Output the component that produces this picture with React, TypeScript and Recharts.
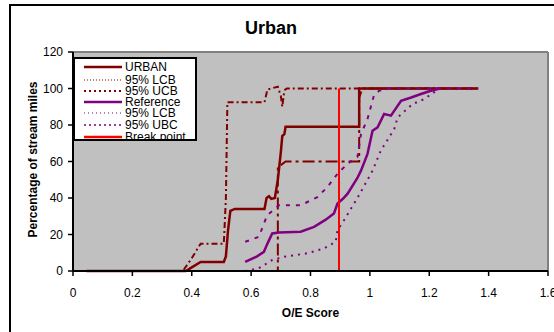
import React from 'react';
import { LineChart, Line, XAxis, YAxis, CartesianGrid, ReferenceLine, Legend } from 'recharts';

// ---- data ----
const xTicks = [0, 0.2, 0.4, 0.6, 0.8, 1, 1.2, 1.4, 1.6];
const yTicks = [0, 20, 40, 60, 80, 100, 120];

const urbanX = [0.045, 0.38, 0.40, 0.43, 0.508, 0.515, 0.522, 0.53, 0.545, 0.645, 0.652, 0.66, 0.668, 0.68, 0.69, 0.70, 0.705, 0.712, 0.716, 0.964, 0.964, 1.365];
const urbanY = [0, 0, 2, 5, 5, 8, 22, 33, 34, 34, 40, 41, 39.5, 40, 50, 65, 74, 75, 79, 79, 100, 100];

const urbanLcbX = [0.045, 0.69, 0.69, 0.70, 0.716, 0.964, 0.964, 0.975, 1.365];
const urbanLcbY = [0, 0, 57, 58, 60, 60, 95, 100, 100];

const urbanUcbX = [0.045, 0.37, 0.40, 0.43, 0.508, 0.515, 0.52, 0.645, 0.655, 0.69, 0.70, 0.705, 0.712, 0.72, 1.365];
const urbanUcbY = [0, 0, 7, 15, 15, 40, 92.5, 92.5, 99.5, 101, 96, 90, 99, 100, 100];

const refX = [0.58, 0.62, 0.643, 0.655, 0.671, 0.694, 0.767, 0.812, 0.85, 0.879, 0.891, 0.91, 0.925, 0.958, 0.97, 0.992, 1.009, 1.026, 1.048, 1.071, 1.105, 1.139, 1.172, 1.2, 1.235];
const refY = [5, 8, 10.5, 15, 20.6, 21.1, 21.5, 24.2, 28, 31.5, 37, 39.7, 42.4, 51, 55, 64.2, 76.9, 78.7, 86, 85.1, 93.3, 95.1, 97, 98.5, 100];

const refLcbX = [0.58, 0.626, 0.671, 0.711, 0.789, 0.846, 0.885, 0.891, 0.913, 0.958, 1.009, 1.037, 1.082, 1.094, 1.144, 1.183, 1.223, 1.24];
const refLcbY = [0, 1.5, 6, 7.8, 9.7, 12.4, 16, 22.4, 27.8, 40, 55, 66, 77.8, 84.2, 91.5, 94.2, 98.7, 100];

const refUbcX = [0.58, 0.626, 0.654, 0.694, 0.767, 0.823, 0.857, 0.891, 0.925, 0.958, 0.97, 0.992, 1.015, 1.031, 1.05, 1.365];
const refUbcY = [16, 18.7, 30.5, 36, 36, 40.5, 46, 53.3, 58.8, 62.4, 75, 83.3, 97, 98.7, 100, 100];

const breakX = [0.896, 0.896];
const breakY = [0, 100];

const legendLabels = ['URBAN', '95% LCB', '95% UCB', 'Reference', '95% LCB', '95% UBC', 'Break point'];

const toPts = (xs: number[], ys: number[]) => xs.map((x, i) => ({ x, y: ys[i] }));

const DARK_RED = '#800000';
const PURPLE = '#800080';
const RED = '#FF0000';
const FONT = '"Liberation Sans", Arial, sans-serif';

const legendStyles = [
  { color: DARK_RED, width: 2.5, dash: undefined },
  { color: DARK_RED, width: 1, dash: '1 2' },
  { color: DARK_RED, width: 2, dash: '2 3' },
  { color: PURPLE, width: 2.5, dash: undefined },
  { color: PURPLE, width: 1, dash: '1 3' },
  { color: PURPLE, width: 1.5, dash: '2 3' },
  { color: RED, width: 2.5, dash: undefined },
];
const legendRowY = [10, 22.5, 33.5, 44.7, 55.7, 68, 80];

const LegendBox = () => (
  <div
    style={{
      position: 'relative',
      width: 124,
      height: 84,
      boxSizing: 'border-box',
      border: '2px solid #000',
      background: '#fff',
      overflow: 'hidden',
      fontFamily: FONT,
      fontSize: 12,
      color: '#000',
    }}
  >
    {legendLabels.map((lab, i) => (
      <div key={i} style={{ position: 'absolute', left: 0, top: legendRowY[i] - 2 - 7, height: 14, width: 124 }}>
        <svg width={50} height={14} style={{ position: 'absolute', left: 0, top: 0 }}>
          <line
            x1={9}
            x2={47}
            y1={7}
            y2={7}
            stroke={legendStyles[i].color}
            strokeWidth={legendStyles[i].width}
            strokeDasharray={legendStyles[i].dash}
          />
        </svg>
        <span style={{ position: 'absolute', left: 50, top: 0, lineHeight: '14px', whiteSpace: 'nowrap' }}>{lab}</span>
      </div>
    ))}
  </div>
);

export default function App() {
  return (
    <div style={{ position: 'absolute', left: 0, top: 0, width: 554, height: 332, overflow: 'hidden', background: '#fff' }}>
      <div
        style={{
          position: 'absolute',
          left: 9,
          top: 4,
          width: 600,
          height: 400,
          border: '2px solid #000',
          boxSizing: 'border-box',
        }}
      />
      <div
        style={{
          position: 'absolute',
          left: 0,
          width: 542,
          top: 17,
          textAlign: 'center',
          fontFamily: FONT,
          fontWeight: 'bold',
          fontSize: 18,
          lineHeight: '22px',
          color: '#000',
        }}
      >
        Urban
      </div>
      <div style={{ position: 'absolute', left: 0, top: 0 }}>
        <LineChart
          width={554}
          height={332}
          margin={{ top: 52, right: 6, bottom: 0, left: 0 }}
          style={{ fontFamily: FONT }}
        >
          <CartesianGrid fill="#C0C0C0" horizontal={false} vertical={false} stroke="none" />
          <XAxis
            type="number"
            dataKey="x"
            domain={[0, 1.6]}
            ticks={xTicks}
            allowDataOverflow
            height={61}
            interval={0}
            tickSize={5}
            tickMargin={12}
            axisLine={{ stroke: '#000', strokeWidth: 2 }}
            tickLine={{ stroke: '#000', strokeWidth: 1.5 }}
            tick={{ fill: '#000', fontSize: 12 }}
            label={(props: any) => {
              const vb = props.viewBox || { x: 73, y: 271, width: 475 };
              return (
                <text x={vb.x + vb.width / 2} y={vb.y + 46} textAnchor="middle" fontWeight="bold" fontSize={12} fill="#000">
                  O/E Score
                </text>
              );
            }}
          />
          <YAxis
            type="number"
            dataKey="y"
            domain={[0, 120]}
            ticks={yTicks}
            width={73}
            interval={0}
            tickSize={5}
            tickMargin={5}
            axisLine={{ stroke: '#000', strokeWidth: 2 }}
            tickLine={{ stroke: '#000', strokeWidth: 1.5 }}
            tick={{ fill: '#000', fontSize: 12 }}
            label={(props: any) => {
              const vb = props.viewBox || { x: 0, y: 52, height: 219 };
              const cx = vb.x + 33;
              const cy = vb.y + vb.height / 2 - 2;
              return (
                <text
                  x={cx}
                  y={cy}
                  transform={`rotate(-90 ${cx} ${cy})`}
                  textAnchor="middle"
                  dominantBaseline="central"
                  fontWeight="bold"
                  fontSize={12}
                  fill="#000"
                >
                  Percentage of stream miles
                </text>
              );
            }}
          />
          <ReferenceLine y={120} stroke="#808080" strokeWidth={2} />
          <ReferenceLine x={1.6} stroke="#808080" strokeWidth={2} />
          <Legend
            layout="horizontal"
            verticalAlign="middle"
            align="center"
            content={() => <LegendBox />}
            wrapperStyle={{ position: 'absolute', left: 73, top: 57, width: 124, height: 84 }}
          />
          <Line data={toPts(urbanLcbX, urbanLcbY)} dataKey="y" type="linear" stroke={DARK_RED} strokeWidth={2} strokeDasharray="12 4 3 4" dot={false} activeDot={false} isAnimationActive={false} legendType="none" />
          <Line data={toPts(urbanUcbX, urbanUcbY)} dataKey="y" type="linear" stroke={DARK_RED} strokeWidth={2} strokeDasharray="6 3 2 3" dot={false} activeDot={false} isAnimationActive={false} legendType="none" />
          <Line data={toPts(urbanX, urbanY)} dataKey="y" type="linear" stroke={DARK_RED} strokeWidth={2.5} dot={false} activeDot={false} isAnimationActive={false} legendType="none" />
          <Line data={toPts(refLcbX, refLcbY)} dataKey="y" type="linear" stroke={PURPLE} strokeWidth={2} strokeDasharray="2 5" dot={false} activeDot={false} isAnimationActive={false} legendType="none" />
          <Line data={toPts(refUbcX, refUbcY)} dataKey="y" type="linear" stroke={PURPLE} strokeWidth={2} strokeDasharray="4 6" dot={false} activeDot={false} isAnimationActive={false} legendType="none" />
          <Line data={toPts(refX, refY)} dataKey="y" type="linear" stroke={PURPLE} strokeWidth={2.5} dot={false} activeDot={false} isAnimationActive={false} legendType="none" />
          <Line data={toPts(breakX, breakY)} dataKey="y" type="linear" stroke={RED} strokeWidth={2} dot={false} activeDot={false} isAnimationActive={false} legendType="none" />
        </LineChart>
      </div>
    </div>
  );
}
